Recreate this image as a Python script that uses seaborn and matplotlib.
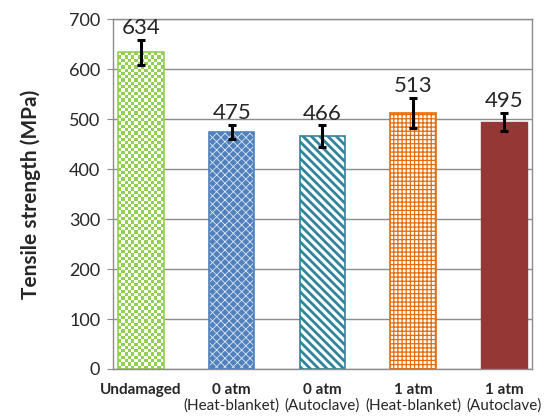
import numpy as np
import matplotlib
matplotlib.use("Agg")
import matplotlib.pyplot as plt
from matplotlib.colors import ListedColormap
from matplotlib.patches import Rectangle
import seaborn as sns

# data
labels_top = ["Undamaged", "0 atm", "0 atm", "1 atm", "1 atm"]
labels_bottom = ["", "(Heat-blanket)", "(Autoclave)", "(Heat-blanket)", "(Autoclave)"]
strength = [634, 475, 466, 513, 495]
err = [25, 14, 22, 30, 18]
colors = ["#92D050", "#4F81BD", "#31849B", "#E46C0A", "#953735"]

sns.set_style("white")
plt.rcParams['font.family'] = ['Lato', 'DejaVu Sans']

fig = plt.figure(figsize=(5.53, 4.16), dpi=100)
ax = fig.add_axes([0.204, 0.113, 0.758, 0.841])

cats = [f"c{i}" for i in range(len(strength))]
sns.barplot(x=cats, y=strength, hue=cats, palette=colors, legend=False,
            width=0.5, ax=ax, zorder=2)

bars = list(ax.patches)
# styling of each bar
for i, p in enumerate(bars):
    p.set_zorder(2)
    if i == 0:
        p.set_facecolor("none")
        p.set_edgecolor(colors[0])
        p.set_linewidth(1.2)
    elif i == 1:
        p.set_facecolor(colors[1])
        p.set_edgecolor("#DDE6F3")
        p.set_hatch("xxxx")
        p.set_linewidth(0)
    elif i == 2:
        p.set_facecolor("white")
        p.set_edgecolor(colors[2])
        p.set_hatch("\\" * 4)
        p.set_linewidth(1.2)
    elif i == 3:
        p.set_facecolor("white")
        p.set_edgecolor(colors[3])
        p.set_hatch("++++")
        p.set_linewidth(1.2)
    else:
        p.set_facecolor(colors[4])
        p.set_edgecolor(colors[4])
        p.set_linewidth(1)

for i, lw in [(1, 0.6), (2, 2.0), (3, 0.9)]:
    if hasattr(bars[i], "set_hatch_linewidth"):
        bars[i].set_hatch_linewidth(lw)

# outline for the blue bar (hatch is light)
b = bars[1]
ax.add_patch(Rectangle(b.get_xy(), b.get_width(), b.get_height(), fill=False,
                       ec=colors[1], lw=1.2, zorder=3))

# checkerboard texture for the first bar
b = bars[0]
x0, y0 = b.get_x(), b.get_y()
nx, ny = 14, 96
chk = np.indices((ny, nx)).sum(axis=0) % 2
im = ax.imshow(chk, cmap=ListedColormap(["white", colors[0]]), aspect="auto",
               extent=(x0, x0 + b.get_width(), y0, y0 + b.get_height()),
               interpolation="nearest", zorder=1.9)
im.set_clip_path(b)
ax.set_xlim(-0.31, 4.31)
ax.set_ylim(0, 700)

centers = [p.get_x() + p.get_width() / 2 for p in bars]
ax.errorbar(centers, strength, yerr=err, fmt="none", ecolor="black",
            elinewidth=2.2, capsize=2.8, capthick=2.2, zorder=4)

for c, v, e in zip(centers, strength, err):
    ax.annotate(f"{v}", (c, v + e), xytext=(0, 1), textcoords="offset points",
                ha="center", va="bottom", fontsize=16, zorder=5)

ax.set_yticks(range(0, 701, 100))
ax.yaxis.grid(True, color="#8C8C8C", lw=1)
ax.set_axisbelow(True)
for s in ax.spines.values():
    s.set_color("#8C8C8C")
    s.set_linewidth(1)

ax.tick_params(axis="y", labelsize=13, length=4, color="#8C8C8C", left=True,
               direction="out", pad=5)
ax.set_xticks(range(len(labels_top)))
ax.set_xticklabels(labels_top, fontsize=11, fontweight="bold")
ax.tick_params(axis="x", length=0, pad=10)
for i, t in enumerate(labels_bottom):
    ax.text(i, -0.105, t, transform=ax.get_xaxis_transform(), ha="center",
            va="center", fontsize=11)

ax.set_ylabel("Tensile strength (MPa)", fontsize=15, fontweight="bold", labelpad=20)
ax.set_xlabel("")

fig.savefig("out.png", dpi=100)
